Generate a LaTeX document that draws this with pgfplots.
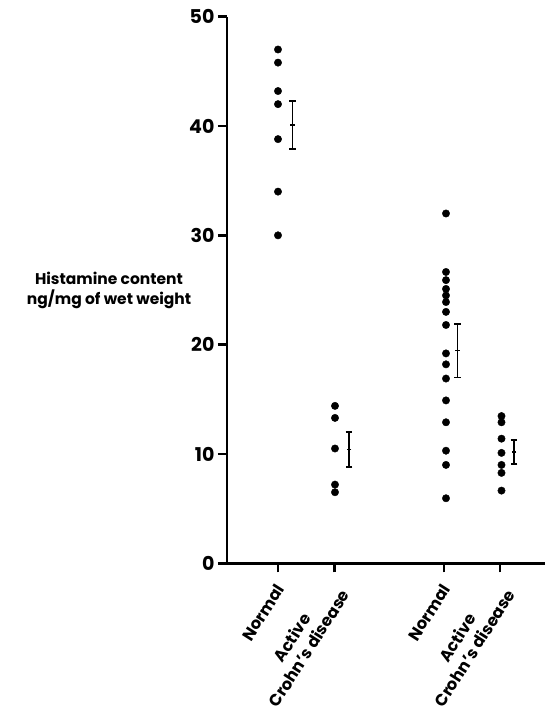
\documentclass[border=0pt]{standalone}
\usepackage{fontspec}
\setmainfont{Poppins}
\usepackage{pgfplots}
\pgfplotsset{compat=1.18}
\usetikzlibrary{calc}
\begin{document}
\begin{tikzpicture}
\begin{axis}[
  scale only axis, width=318bp, height=546.6bp,
  xmin=0, xmax=318, ymin=0, ymax=50,
  clip=false,
  axis x line=bottom, axis y line=left,
  x axis line style={line width=2.8bp, -},
  y axis line style={line width=2.8bp, -},
  every outer x axis line/.append style={line width=2.8bp},
  every outer y axis line/.append style={line width=2.8bp},
  tick align=outside,
  major tick length=9bp,
  xtick style={black, line width=2.6bp},
  ytick style={black, line width=2.4bp},
  ytick={0,10,20,30,40,50},
  xtick={51,107.5,217,273},
  xticklabels={Normal,{Active\\Crohn's disease},Normal,{Active\\Crohn's disease}},
  /pgf/number format/assume math mode=true,
  yticklabel style={font=\bfseries\fontsize{19bp}{22bp}\selectfont},
  xticklabel style={font=\bfseries\fontsize{16.3bp}{20bp}\selectfont, rotate=57.5, anchor=east, align=center, yshift=-9bp, xshift=-7bp},
  every axis y label/.style={at={(axis description cs:-0.371,0.5)}, anchor=center, align=center, font=\bfseries\fontsize{15.5bp}{20bp}\selectfont},
  ylabel={Histamine content\\ng/mg of wet weight},
]
\coordinate (bl) at (rel axis cs:0,0);
\coordinate (tr) at (rel axis cs:1,1);
% individual values
\addplot[only marks, mark=*, mark size=3.7bp, black] coordinates {
 (51,47.0) (51,45.8) (51,43.2) (51,42.0) (51,38.8) (51,34.0) (51,30.0)
};
\addplot[only marks, mark=*, mark size=3.7bp, black] coordinates {
 (108,14.4) (108,13.3) (108,10.5) (108,7.2) (108,6.5)
};
\addplot[only marks, mark=*, mark size=3.7bp, black] coordinates {
 (219,32.0) (219,26.65) (219,25.9) (219,25.1) (219,24.5) (219,23.9) (219,23.0) (219,21.8)
 (219,19.2) (219,18.2) (219,16.9) (219,14.9) (219,12.9) (219,10.3) (219,9.0) (219,5.95)
};
\addplot[only marks, mark=*, mark size=3.7bp, black] coordinates {
 (274.5,13.47) (274.5,12.9) (274.5,11.4) (274.5,10.1) (274.5,9.0) (274.5,8.27) (274.5,6.65)
};
% mean +- SEM
\addplot[only marks, mark=-, mark size=2.4bp, mark options={line width=1.6bp}, black,
  error bars/.cd, y dir=both, y explicit, error mark=|,
  error mark options={black, mark size=3.3bp, line width=1.6bp},
  error bar style={black, line width=1.8bp}]
  coordinates {
 (65.5,40.1) +- (0,2.2)
 (122,10.4) +- (0,1.6)
 (230.5,19.45) +- (0,2.45)
 (287,10.2) +- (0,1.1)
};
\end{axis}
\pgfresetboundingbox
\path ($(bl)+(-227bp,-146.7bp)$) rectangle ($(tr)+(0,16.7bp)$);
\end{tikzpicture}
\end{document}
